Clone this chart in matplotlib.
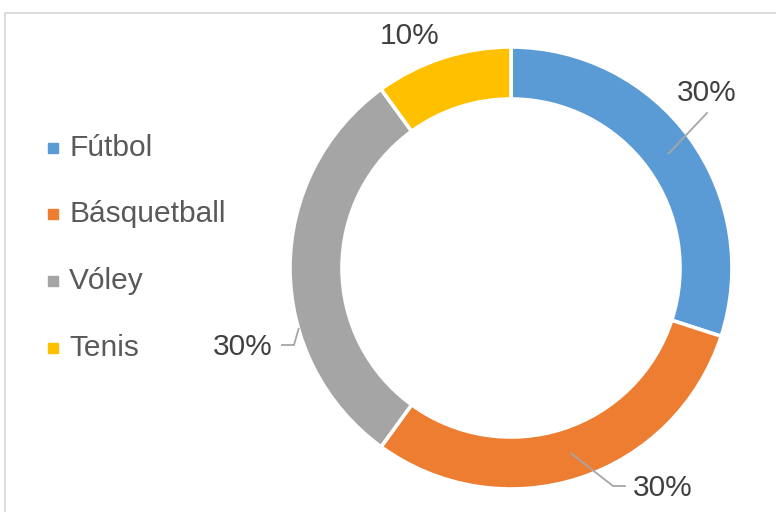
import numpy as np
import matplotlib
matplotlib.use("Agg")
import matplotlib.pyplot as plt
from matplotlib.patches import Rectangle

categories = ["Fútbol", "Básquetball", "Vóley", "Tenis"]
values = [30, 30, 30, 10]
labels = ["30%", "30%", "30%", "10%"]
colors = ["#5B9BD5", "#ED7D31", "#A5A5A5", "#FFC000"]

W, H = 776, 512
fig = plt.figure(figsize=(W / 100, H / 100), dpi=100)
ax = fig.add_axes([0, 0, 1, 1])
ax.set_xlim(0, W)
ax.set_ylim(0, H)
ax.axis("off")

font = "Liberation Sans"
fs = 21.5

# border
ax.add_patch(Rectangle((5, -20), W + 40, H - 13 + 20, fill=False,
                       edgecolor="#D9D9D9", linewidth=1.3, zorder=0))

cx, cy, R, ring = 511, H - 268, 221, 52
wedges, _ = ax.pie(values, center=(cx, cy), radius=R, startangle=90,
                   counterclock=False, colors=colors, frame=True,
                   wedgeprops=dict(width=ring, edgecolor="white", linewidth=2.6))
ax.set_xlim(0, W)
ax.set_ylim(0, H)
ax.set_aspect("auto")
ax.axis("off")

def pt(angle_deg, r):
    a = np.deg2rad(angle_deg)
    return cx + r * np.cos(a), cy + r * np.sin(a)

mids = [(w.theta1 + w.theta2) / 2 for w in wedges]
line_c = "#A6A6A6"
text_c = "#404040"

# Fútbol label
ax_, ay_ = pt(mids[0], R - ring / 2)
ax.plot([ax_, 707], [ay_, H - 113], color=line_c, lw=1.3)
ax.text(707, H - 93, labels[0], ha="center", va="center", fontsize=fs,
        family=font, color=text_c)

# Básquetball label
bx, by = pt(mids[1], R - ring / 2)
ax.plot([bx, 613, 625], [by, H - 486, H - 486], color=line_c, lw=1.3)
ax.text(663, H - 488, labels[1], ha="center", va="center", fontsize=fs,
        family=font, color=text_c)

# Vóley label
vx, vy = pt(196, R)
ax.plot([vx, 294, 282], [vy, H - 345, H - 345], color=line_c, lw=1.3)
ax.text(243, H - 347, labels[2], ha="center", va="center", fontsize=fs,
        family=font, color=text_c)

# Tenis label
ax.text(410, H - 36, labels[3], ha="center", va="center", fontsize=fs,
        family=font, color=text_c)

# legend
leg_y = [148, 214, 281, 348]
for cat, col, y in zip(categories, colors, leg_y):
    ax.plot([53], [H - y], marker="s", markersize=6.5, color=col, linestyle="none")
    ax.text(69, H - y, cat, ha="left", va="center", fontsize=fs,
            family=font, color="#595959")

fig.savefig("out.png", dpi=100)
